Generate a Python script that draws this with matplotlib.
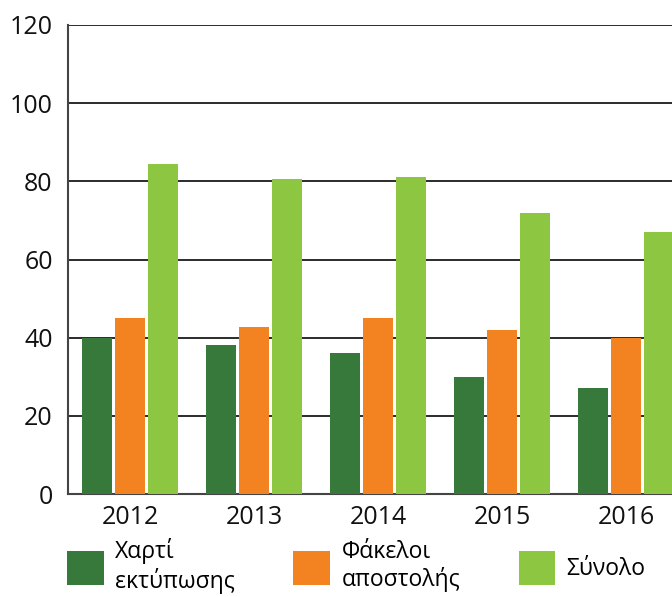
import matplotlib
matplotlib.use("Agg")
import matplotlib.pyplot as plt
import numpy as np
from matplotlib.patches import Patch

plt.rcParams['font.family'] = ['Open Sans', 'DejaVu Sans']

years = ["2012", "2013", "2014", "2015", "2016"]
series_names = ["Χαρτί\nεκτύπωσης", "Φάκελοι\nαποστολής", "Σύνολο"]
paper = [40, 38, 36, 30, 27]
envelopes = [45, 42.7, 45, 42, 40]
total = [84.4, 80.6, 81.1, 71.9, 67]
colors = ["#37793B", "#F38321", "#8DC641"]
yticks = [0, 20, 40, 60, 80, 100, 120]

fig = plt.figure(figsize=(6.72, 5.97), dpi=100)
ax = fig.add_axes([68/672, 1-494/597, 1-68/672, (494-25)/597])

x = np.arange(len(years))
w = 0.242
off = 0.266
for i, vals in enumerate([paper, envelopes, total]):
    ax.bar(x + (i-1)*off, vals, width=w, color=colors[i], zorder=3, label=series_names[i])

ax.set_ylim(0, 120)
ax.set_xlim(-0.5, (672-130)/124)
ax.set_yticks(yticks)
ax.set_xticks(x)
ax.set_xticklabels(years)
ax.yaxis.grid(True, color="#1a1a1a", linewidth=1.3, zorder=1)
ax.set_axisbelow(True)
for s in ["top", "right"]:
    ax.spines[s].set_visible(False)
for s in ["left", "bottom"]:
    ax.spines[s].set_color("#444444")
    ax.spines[s].set_linewidth(1.5)
ax.tick_params(axis="both", length=0, labelsize=18, colors="#111111")
ax.tick_params(axis="y", pad=11)
ax.tick_params(axis="x", pad=8)

handles = [Patch(facecolor=c, edgecolor="none") for c in colors]
fig.legend(handles, series_names, loc="upper left", bbox_to_anchor=(67/672, 1-538/597),
           ncol=3, frameon=False, fontsize=16.5, handlelength=1.6, handleheight=1.9,
           handletextpad=0.5, columnspacing=2.55, borderaxespad=0, borderpad=0,
           labelspacing=0.2)

fig.savefig("out.png", dpi=100)
